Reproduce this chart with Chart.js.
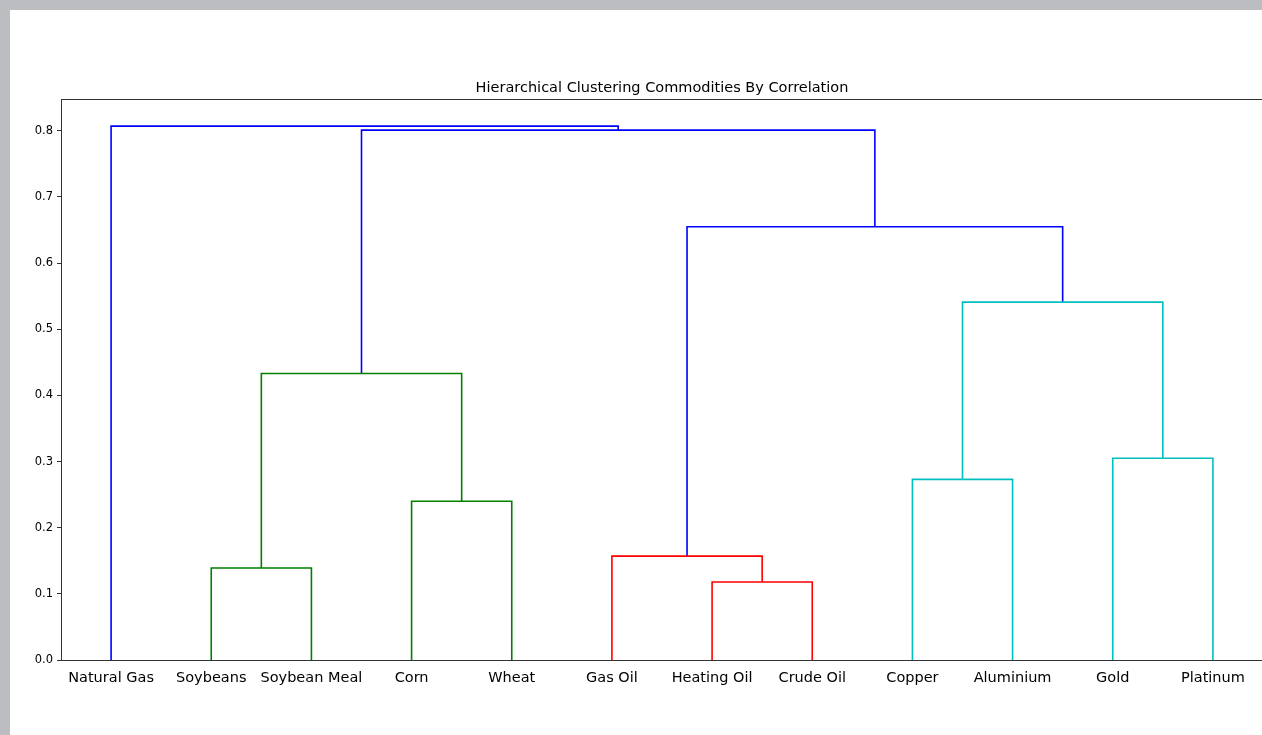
<!DOCTYPE html>
<html>
<head>
<meta charset="utf-8">
<script src="https://cdn.jsdelivr.net/npm/chart.js@4.4.1/dist/chart.umd.min.js"></script>
<style>
  html, body { margin: 0; padding: 0; overflow: hidden; background: #bcbdc0; }
  #frame { position: absolute; left: 10px; top: 10px; width: 1300px; height: 725px; background: #ffffff; }
  #chart { display: block; }
</style>
</head>
<body>
<div id="frame"><canvas id="chart" width="1300" height="725"></canvas></div>
<script>
// Leaf order along the bottom of the dendrogram
const leaves = ['Natural Gas', 'Soybeans', 'Soybean Meal', 'Corn', 'Wheat', 'Gas Oil',
                'Heating Oil', 'Crude Oil', 'Copper', 'Aluminium', 'Gold', 'Platinum'];

// Merges: node ids 0..11 are leaves, merge k creates node 12 + k
const mergeLeft   = [1, 3, 12, 6, 5, 8, 10, 17, 16, 14, 0];
const mergeRight  = [2, 4, 13, 7, 15, 9, 11, 18, 19, 20, 21];
const mergeHeight = [0.139, 0.240, 0.433, 0.118, 0.157, 0.273, 0.305, 0.541, 0.655, 0.801, 0.807];
const mergeColor  = ['#008000', '#008000', '#008000', '#ff0000', '#ff0000', '#00bfbf',
                     '#00bfbf', '#00bfbf', '#0000ff', '#0000ff', '#0000ff'];

const yTicks = [0.0, 0.1, 0.2, 0.3, 0.4, 0.5, 0.6, 0.7, 0.8];
const yMax = 0.848;

// Position of each node: leaves sit at 5, 15, 25, ... ; merged nodes at the middle of their children
const nodeX = leaves.map((_, i) => 5 + 10 * i);
const nodeY = leaves.map(() => 0);
mergeHeight.forEach((h, k) => {
  nodeX.push((nodeX[mergeLeft[k]] + nodeX[mergeRight[k]]) / 2);
  nodeY.push(h);
});

// One U-shaped link per merge
const datasets = mergeHeight.map((h, k) => {
  const a = mergeLeft[k], b = mergeRight[k];
  return {
    data: [
      { x: nodeX[a], y: nodeY[a] },
      { x: nodeX[a], y: h },
      { x: nodeX[b], y: h },
      { x: nodeX[b], y: nodeY[b] }
    ],
    showLine: true,
    borderColor: mergeColor[k],
    borderWidth: 1.6,
    pointRadius: 0,
    fill: false,
    tension: 0
  };
});

// Frame around the plotting area
const frameBox = {
  id: 'frameBox',
  afterDatasetsDraw(chart) {
    const { ctx, chartArea: a } = chart;
    ctx.save();
    ctx.strokeStyle = '#333333';
    ctx.lineWidth = 1;
    ctx.strokeRect(Math.round(a.left) + 0.5, Math.round(a.top) + 0.5,
                   Math.round(a.right - a.left), Math.round(a.bottom - a.top));
    ctx.restore();
  }
};

new Chart(document.getElementById('chart'), {
  type: 'scatter',
  data: { datasets },
  options: {
    responsive: false,
    animation: false,
    layout: { padding: { left: 0, right: 47, top: 0, bottom: 0 } },
    plugins: {
      legend: { display: false },
      tooltip: { enabled: false },
      title: {
        display: true,
        text: 'Hierarchical Clustering Commodities By Correlation',
        color: '#000000',
        fullSize: false,
        font: { family: 'DejaVu Sans', size: 14.5, weight: 'normal' },
        padding: { top: 69.3, bottom: 2.3 }
      }
    },
    scales: {
      x: {
        type: 'linear',
        min: 0,
        max: 10 * leaves.length,
        afterBuildTicks(scale) { scale.ticks = nodeX.slice(0, leaves.length).map(v => ({ value: v })); },
        afterFit(scale) { scale.height = 75; },
        ticks: {
          autoSkip: false,
          maxRotation: 0,
          padding: 10,
          color: '#000000',
          font: { family: 'DejaVu Sans', size: 14.5 },
          callback: (v) => leaves[(v - 5) / 10]
        },
        grid: { display: false, drawTicks: false },
        border: { display: true, color: '#333333', width: 1 }
      },
      y: {
        min: 0,
        max: yMax,
        afterBuildTicks(scale) { scale.ticks = yTicks.map(v => ({ value: v })); },
        afterFit(scale) { scale.width = 51; },
        ticks: {
          padding: 4,
          color: '#000000',
          font: { family: 'DejaVu Sans', size: 11.5 },
          callback: (v) => v.toFixed(1)
        },
        grid: { display: true, drawOnChartArea: false, drawTicks: true, tickLength: 4, color: '#333333' },
        border: { display: true, color: '#333333', width: 1 }
      }
    }
  },
  plugins: [frameBox]
});
</script>
</body>
</html>
